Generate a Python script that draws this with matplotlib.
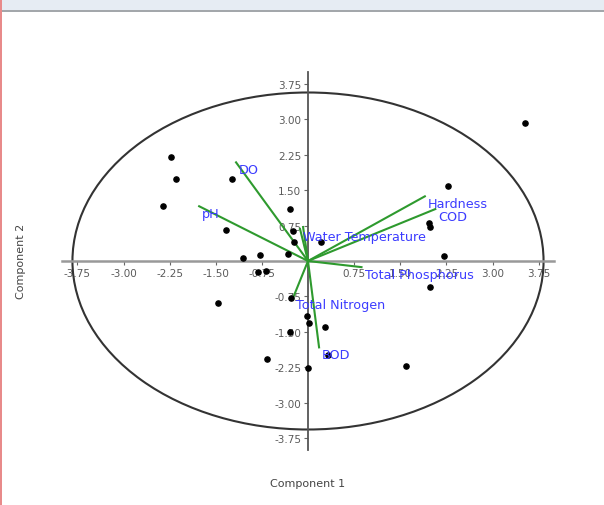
import numpy as np
import matplotlib
matplotlib.use("Agg")
import matplotlib.pyplot as plt
from matplotlib.patches import Ellipse, Rectangle

# PCA scores (component 1, component 2)
score_x = [3.53, -2.23, -2.15, -2.35, -1.24, -0.29, -1.33, -0.25, -0.22, 0.21,
           -0.32, -0.78, -1.05, -0.81, -0.68, -1.47, -0.28, -0.01, 0.02, 0.28,
           -0.30, -0.66, 0.33, 0.00, 1.59, 1.99, 2.28, 1.97, 1.98, 2.21]
score_y = [2.92, 2.20, 1.74, 1.17, 1.74, 1.10, 0.66, 0.64, 0.40, 0.41,
           0.15, 0.13, 0.06, -0.24, -0.21, -0.88, -0.78, -1.17, -1.31, -1.40,
           -1.50, -2.08, -1.99, -2.27, -2.23, -0.56, 1.58, 0.80, 0.73, 0.11]

# loadings (biplot vectors)
var_names = ["DO", "pH", "Water Temperature", "", "Hardness", "COD",
             "Total Phosphorus", "Total Nitrogen", "BOD"]
load_x = [-1.17, -1.77, -0.13, -0.08, 1.90, 2.07, 0.87, -0.24, 0.18]
load_y = [2.09, 1.16, 0.68, 0.72, 1.37, 1.10, -0.13, -0.77, -1.83]

ticks = [-3.75, -3.00, -2.25, -1.50, -0.75, 0.75, 1.50, 2.25, 3.00, 3.75]

# ellipse semi-axes
ell_a = 3.83
ell_b = 3.57

W, H = 604, 506
x0, y0 = 308, 262   # origin in pixels
sx, sy = 61.5, 47.2  # pixels per unit

fig = plt.figure(figsize=(W / 100, H / 100), dpi=100)
ax = fig.add_axes([0, 0, 1, 1])
ax.set_xlim(-x0 / sx, (W - x0) / sx)
ax.set_ylim((y0 - H) / sy, y0 / sy)

# window chrome
fig.patches.append(Rectangle((0, 1 - 11 / H), 1, 11 / H, transform=fig.transFigure,
                             facecolor="#e6ecf3", edgecolor="none", zorder=0))
fig.patches.append(Rectangle((0, 1 - 13 / H), 1, 2.5 / H, transform=fig.transFigure,
                             facecolor="#a3a7ab", edgecolor="none", zorder=0))
fig.patches.append(Rectangle((0, 0), 1.5 / W, 1, transform=fig.transFigure,
                             facecolor="#e88a8a", edgecolor="none", zorder=0))

# axes through origin
for s in ["top", "right"]:
    ax.spines[s].set_visible(False)
ax.spines["left"].set_position("zero")
ax.spines["bottom"].set_position("zero")
ax.spines["left"].set_bounds(-4, 4)
ax.spines["bottom"].set_bounds(-4, 4)
ax.spines["bottom"].set_color("#999999")
ax.spines["bottom"].set_linewidth(1.8)
ax.spines["left"].set_color("#555555")
ax.spines["left"].set_linewidth(1.3)

ax.set_xticks(ticks)
ax.set_yticks(ticks)
ax.set_xticklabels([f"{t:.2f}" for t in ticks])
ax.set_yticklabels([f"{t:.2f}" for t in ticks])
ax.tick_params(axis="both", direction="out", length=3, width=0.8, color="#666666",
               labelsize=7.5, labelcolor="#5a5a5a", pad=2)

ax.add_patch(Ellipse((0, 0), 2 * ell_a, 2 * ell_b, fill=False,
                     edgecolor="#333333", linewidth=1.5, zorder=2))

for vx, vy, name in zip(load_x, load_y, var_names):
    ax.plot([0, vx], [0, vy], color="#2e9a2e", linewidth=1.5, zorder=3)
    if name:
        ax.annotate(name, (vx, vy), xytext=(3, -1), textcoords="offset pixels",
                    ha="left", va="top", fontsize=9.2, color="#3c3cff", zorder=5)

ax.scatter(score_x, score_y, s=14, color="black", zorder=4)

fig.text(308 / W, 1 - 484 / H, "Component 1", ha="center", va="center",
         fontsize=8, color="#444444")
fig.text(21 / W, 1 - 261 / H, "Component 2", ha="center", va="center",
         rotation=90, fontsize=8, color="#444444")

fig.savefig("out.png", dpi=100)
